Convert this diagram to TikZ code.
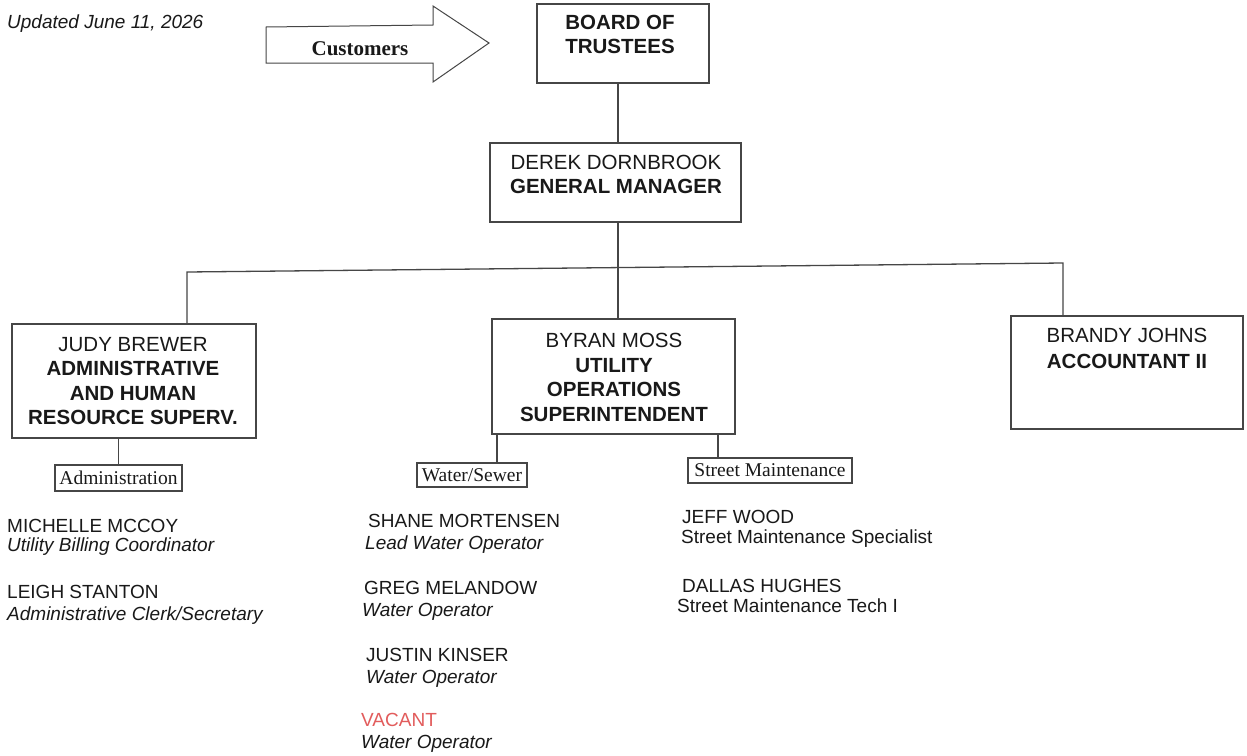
\documentclass[tikz,border=0pt]{standalone}
\usepackage{fontspec}
\setmainfont{Liberation Sans}
\newfontfamily\seriffont{Liberation Serif}
\definecolor{linec}{RGB}{70,70,70}
\definecolor{txt}{RGB}{25,25,25}
\definecolor{vacred}{RGB}{226,92,92}
\begin{document}
\begin{tikzpicture}[x=1pt,y=-1pt,
  box/.style={draw=linec, line width=1.3pt, inner sep=0pt, rectangle},
  sbox/.style={draw=linec, line width=1.1pt, inner sep=0pt, rectangle, font=\seriffont\fontsize{19.5}{22}\selectfont, text=txt},
  conn/.style={draw=linec, line width=1.3pt},
  boxtext/.style={anchor=north, inner sep=0pt, align=center, text=txt, font=\fontsize{20.5}{24.5}\selectfont},
  staff/.style={anchor=base west, inner sep=0pt, text=txt, font=\fontsize{19}{22}\selectfont},
  role/.style={staff, font=\fontsize{19}{22}\selectfont\itshape}
]
\useasboundingbox (0,0) rectangle (1247,755);
\fill[white] (0,0) rectangle (1247,755);

% date
\node[role] (date) at (7,28) {Updated June 11, 2026};

% customers arrow
\draw[linec, line width=1pt, line join=miter] (266,27) -- (433,25) -- (433,6) -- (489,43) -- (433,82) -- (433,63) -- (266,63) -- cycle;
\node[anchor=base, inner sep=0pt, text=txt, font=\seriffont\bfseries\fontsize{21}{24}\selectfont] (cust) at (360,55) {Customers};

% boxes
\node[box, minimum width=172, minimum height=79] (board) at (623,43.5) {};
\node[box, minimum width=251, minimum height=79] (gm) at (615.5,182.5) {};
\node[box, minimum width=244, minimum height=114] (judy) at (134,381) {};
\node[box, minimum width=243, minimum height=115] (byran) at (613.5,376.5) {};
\node[box, minimum width=232, minimum height=113] (brandy) at (1127,372.5) {};

\node[boxtext, font=\fontsize{20.5}{23.5}\selectfont] (boardt) at (620,15) {\textbf{BOARD OF}\\\textbf{TRUSTEES}};
\node[boxtext, font=\fontsize{20.5}{23.5}\selectfont] (gmt) at (616,155) {DEREK DORNBROOK\\\textbf{GENERAL MANAGER}};
\node[boxtext] (judyt) at (133,337) {JUDY BREWER\\\textbf{ADMINISTRATIVE}\\\textbf{AND HUMAN}\\\textbf{RESOURCE SUPERV.}};
\node[boxtext] (byrant) at (614,333) {BYRAN MOSS\\\textbf{UTILITY}\\\textbf{OPERATIONS}\\\textbf{SUPERINTENDENT}};
\node[boxtext, font=\fontsize{20.5}{26}\selectfont] (brandyt) at (1127,328) {BRANDY JOHNS\\\textbf{ACCOUNTANT II}};

% small unit boxes
\node[sbox, minimum width=127, minimum height=26] (admin) at (118.5,478) {Administration};
\node[sbox, minimum width=110, minimum height=24] (water) at (472,475) {Water/Sewer};
\node[sbox, minimum width=164, minimum height=25] (street) at (770,470.5) {Street Maintenance};

% connectors
\coordinate (busL) at (187,272);
\coordinate (busR) at (1063,263);
\draw[conn] ([xshift=-5pt]board.south) -- ([xshift=-5pt]board.south |- gm.north);
\draw[conn] ([xshift=2.5pt]gm.south) -- ([xshift=4.5pt]byran.north);
\draw[conn] (judy.north -| busL) -- (busL) -- (busR) -- (brandy.north -| busR);
\draw[conn] (admin.north) -- (admin.north |- judy.south);
\draw[conn] ([xshift=25pt]water.north) -- ([xshift=25pt]water.north |- byran.south);
\draw[conn] ([xshift=-52pt]street.north) -- ([xshift=-52pt]street.north |- byran.south);

% administration staff
\node[staff] (mm) at (7,532) {MICHELLE MCCOY};
\node[role] (mmr) at (7,551) {Utility Billing Coordinator};
\node[staff] (ls) at (7,598) {LEIGH STANTON};
\node[role] (lsr) at (7,620) {Administrative Clerk/Secretary};

% water/sewer staff
\node[staff] (sm) at (368,527) {SHANE MORTENSEN};
\node[role] (smr) at (365,549) {Lead Water Operator};
\node[staff] (gmel) at (364,594) {GREG MELANDOW};
\node[role] (gmelr) at (362,616) {Water Operator};
\node[staff] (jk) at (366,661) {JUSTIN KINSER};
\node[role] (jkr) at (366,683) {Water Operator};
\node[staff, text=vacred] (vac) at (361,726) {VACANT};
\node[role] (vacr) at (361,748) {Water Operator};

% street staff
\node[staff] (jw) at (682,523) {JEFF WOOD};
\node[staff] (jwr) at (681,543) {Street Maintenance Specialist};
\node[staff] (dh) at (682,592) {DALLAS HUGHES};
\node[staff] (dhr) at (677,612) {Street Maintenance Tech I};
\end{tikzpicture}
\end{document}
